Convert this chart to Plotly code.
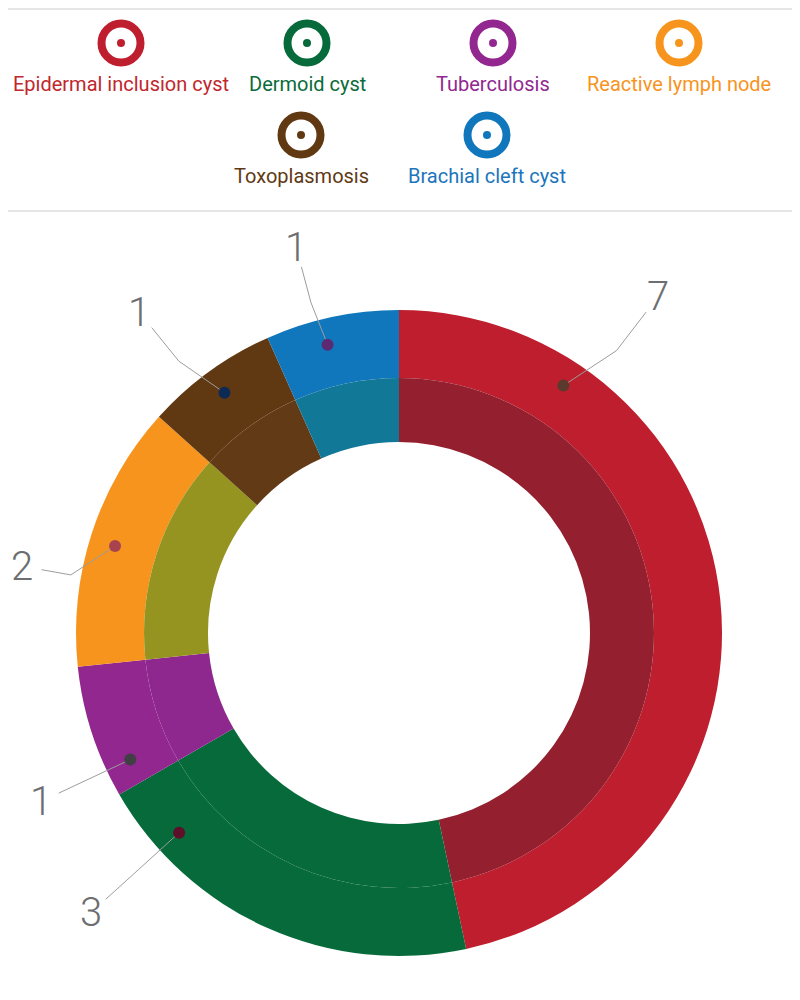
import math
import plotly.graph_objects as go

# ---------------- data ----------------
categories = ["Epidermal inclusion cyst", "Dermoid cyst", "Tuberculosis",
              "Reactive lymph node", "Toxoplasmosis", "Brachial cleft cyst"]
counts = [7, 3, 1, 2, 1, 1]

# ---------------- styling ----------------
outer_colors = ["#be1e2d", "#066a3a", "#92278f", "#f7941e", "#603913", "#1077bd"]
inner_colors = ["#941f2e", "#066a3a", "#8f288e", "#969421", "#623a16", "#127898"]
text_colors = ["#c1272d", "#0b6b3a", "#92278f", "#f7941e", "#603913", "#1c75bc"]
dot_colors = ["#5b3a2e", "#5e0f2a", "#3f3f44", "#a8424f", "#0d2a55", "#5c2a73"]
# where, along each slice (fraction of its sweep), the label dot sits
label_anchor = [0.2, 0.83, 0.2, 0.48, 0.5, 0.42]
# small angular bend of the leader line (degrees)
label_turn = [4, 0, 0, -7, -3, -1]
# radial reach of each value label (px from centre)
label_reach = [425, 416, 396, 383, 413, 399]

W, H = 800, 1000
OFF = 8  # page body margin: axis coordinates below equal page pixels
CX, CY = 399, 633
R_OUT, R_MID, R_HOLE = 323, 255, 191
R_DOT = 297

LABEL_FONT = dict(family="Roboto, Lato, sans-serif", size=40, color="#6d6e71", weight=300)
LEGEND_FONT_FAMILY = "Roboto, sans-serif"


def dom(r):
    cx, cy = CX - OFF, CY - OFF
    return dict(x=[(cx - r) / W, (cx + r) / W],
                y=[(H - cy - r) / H, (H - cy + r) / H])


def polar(r, ang):
    a = math.radians(ang)
    return CX + r * math.sin(a), CY - r * math.cos(a)


def paper_y(py):
    return (H + OFF - py) / H


fig = go.Figure()

fig.add_trace(go.Pie(labels=categories, values=counts, sort=False,
                     direction="clockwise", rotation=0, hole=R_MID / R_OUT,
                     domain=dom(R_OUT), textinfo="none",
                     marker=dict(colors=outer_colors, line=dict(width=0)),
                     hoverinfo="label+value", showlegend=False))
fig.add_trace(go.Pie(labels=categories, values=counts, sort=False,
                     direction="clockwise", rotation=0, hole=R_HOLE / R_MID,
                     domain=dom(R_MID), textinfo="none",
                     marker=dict(colors=inner_colors, line=dict(width=0)),
                     hoverinfo="label+value", showlegend=False))

# ---------------- legend (custom, two centred rows) ----------------
row_sizes = [4, 2]
row_centre = [400, 394]
spacing = 186
row_icon_y = [43, 135]
lx, ly = [], []
for r, n in enumerate(row_sizes):
    for j in range(n):
        lx.append(row_centre[r] + (j - (n - 1) / 2) * spacing)
        ly.append(row_icon_y[r])

fig.add_trace(go.Scatter(x=lx, y=ly, mode="markers", hoverinfo="skip",
                         marker=dict(size=39, color="white",
                                     line=dict(width=8, color=outer_colors))))
fig.add_trace(go.Scatter(x=lx, y=ly, mode="markers", hoverinfo="skip",
                         marker=dict(size=8, color=outer_colors, line=dict(width=0))))

annotations = []
for i, name in enumerate(categories):
    annotations.append(dict(x=lx[i], y=ly[i] + 41, xref="x", yref="y", text=name,
                            showarrow=False, xanchor="center", yanchor="middle",
                            font=dict(family=LEGEND_FONT_FAMILY, size=20,
                                      color=text_colors[i])))

shapes = []
for yv in (9, 211):
    shapes.append(dict(type="line", xref="paper", yref="paper", x0=0, x1=1,
                       y0=paper_y(yv), y1=paper_y(yv),
                       line=dict(color="#dedede", width=1.5)))

# ---------------- value labels with leader lines ----------------
total = sum(counts)
cum = 0
for i, v in enumerate(counts):
    start = cum / total * 360
    sweep = v / total * 360
    cum += v
    a_dot = start + label_anchor[i] * sweep
    a_lab = a_dot + label_turn[i]
    r_txt = label_reach[i]
    r_end = r_txt - 20
    r_elb = R_DOT + 0.55 * (r_end - R_DOT)
    x0, y0 = polar(R_DOT, a_dot)
    x1, y1 = polar(r_elb, a_lab)
    x2, y2 = polar(r_end, a_lab)
    tx, ty = polar(r_txt, a_lab)
    shapes.append(dict(type="path", xref="x", yref="y",
                       path=f"M {x0:.1f},{y0:.1f} L {x1:.1f},{y1:.1f} L {x2:.1f},{y2:.1f}",
                       line=dict(color="#9d9d9d", width=1)))
    shapes.append(dict(type="circle", xref="x", yref="y",
                       x0=x0 - 6, x1=x0 + 6, y0=y0 - 6, y1=y0 + 6,
                       fillcolor=dot_colors[i], line=dict(width=0)))
    annotations.append(dict(x=tx, y=ty, xref="x", yref="y", text=str(v), showarrow=False,
                            xanchor="center", yanchor="middle", font=LABEL_FONT))

fig.update_layout(
    width=W, height=H, margin=dict(l=0, r=0, t=0, b=0),
    paper_bgcolor="white", plot_bgcolor="rgba(0,0,0,0)", showlegend=False,
    xaxis=dict(range=[OFF, W + OFF], domain=[0, 1], visible=False, fixedrange=True),
    yaxis=dict(range=[H + OFF, OFF], domain=[0, 1], visible=False, fixedrange=True),
    shapes=shapes, annotations=annotations,
)

fig.write_html("out.html")
